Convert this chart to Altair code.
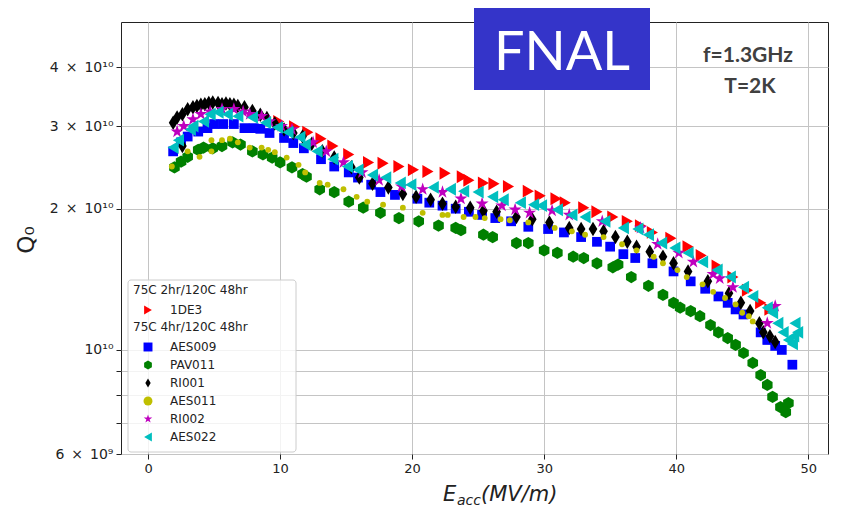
import altair as alt
import pandas as pd

# ---------------- data (Q in units of 1e10) ----------------
E_1DE3 = [9.9, 11.1, 12.1, 13.1, 14.0, 15.2, 16.7, 17.8, 19.0, 20.1, 21.2, 22.5, 23.8, 24.3, 25.4,
          26.2, 27.3, 28.8, 29.7, 30.9, 31.6, 33.0, 34.0, 35.2, 36.3, 37.3, 38.2, 39.6, 40.9, 41.9,
          43.1, 44.3, 45.4, 46.4, 47.1]
Q_1DE3 = [3.07, 2.99, 2.91, 2.82, 2.72, 2.61, 2.51, 2.50, 2.46, 2.42, 2.40, 2.38, 2.34, 2.30, 2.27,
          2.26, 2.23, 2.18, 2.13, 2.10, 2.06, 2.01, 1.97, 1.92, 1.88, 1.84, 1.78, 1.73, 1.66, 1.59,
          1.51, 1.43, 1.34, 1.26, 1.22]

E_AES009 = [1.9, 2.5, 3.0, 3.8, 4.5, 5.0, 5.7, 6.5, 7.3, 8.0, 8.5, 9.2, 10.3, 11.0, 11.8, 13.1, 14.1,
            15.2, 15.9, 16.9, 17.6, 18.7, 20.4, 21.3, 22.3, 23.3, 24.3, 25.3, 26.3, 27.5, 28.8, 30.3,
            31.5, 32.8, 34.0, 35.0, 36.0, 36.9, 38.2, 39.8, 41.1, 42.2, 43.2, 43.9, 44.5, 45.1, 46.4,
            46.9, 47.5, 48.0, 48.8]
Q_AES009 = [2.65, 2.77, 2.85, 2.92, 2.97, 3.03, 3.03, 3.03, 2.97, 2.97, 2.96, 2.90, 2.83, 2.76, 2.69,
            2.55, 2.46, 2.39, 2.33, 2.25, 2.17, 2.14, 2.10, 2.06, 2.03, 2.00, 1.97, 1.94, 1.91, 1.88,
            1.83, 1.81, 1.78, 1.74, 1.70, 1.66, 1.60, 1.57, 1.53, 1.47, 1.40, 1.35, 1.30, 1.26, 1.22,
            1.19, 1.09, 1.05, 1.02, 1.00, 0.93]

E_PAV011 = [2.0, 2.5, 3.0, 3.8, 4.2, 4.9, 5.6, 6.4, 7.0, 7.9, 8.7, 9.4, 10.0, 10.9, 11.7, 12.0, 13.0,
            14.1, 15.2, 16.3, 17.6, 19.0, 20.5, 22.0, 23.3, 23.7, 25.4, 26.1, 27.9, 28.8, 30.0, 31.0,
            32.2, 33.0, 34.0, 35.2, 35.6, 36.6, 37.9, 39.0, 39.8, 40.3, 41.1, 41.8, 42.6, 43.2, 43.9,
            44.5, 45.1, 45.8, 46.4, 46.9, 47.3, 47.9, 48.3, 48.5]
Q_PAV011 = [2.45, 2.52, 2.58, 2.67, 2.70, 2.69, 2.72, 2.77, 2.74, 2.65, 2.61, 2.57, 2.51, 2.45, 2.37,
            2.34, 2.20, 2.17, 2.07, 2.01, 1.96, 1.91, 1.88, 1.84, 1.82, 1.80, 1.76, 1.74, 1.69, 1.69,
            1.63, 1.61, 1.58, 1.57, 1.53, 1.50, 1.52, 1.43, 1.37, 1.31, 1.26, 1.23, 1.21, 1.18, 1.13,
            1.09, 1.06, 1.025, 0.985, 0.938, 0.884, 0.842, 0.794, 0.755, 0.737, 0.77]

E_RI001 = [1.9, 2.2, 2.6, 2.6, 3.0, 3.4, 3.7, 4.0, 4.3, 4.6, 4.9, 5.3, 5.6, 5.9, 6.2, 6.5, 6.8, 7.3,
           7.9, 8.5, 9.0, 9.6, 10.3, 11.0, 11.7, 12.4, 13.2, 14.1, 15.4, 16.0, 17.0, 18.2, 19.3, 20.3,
           21.4, 22.3, 23.3, 24.4, 25.4, 26.4, 27.9, 29.1, 30.4, 31.9, 32.8, 33.7, 34.5, 35.4, 36.3,
           37.0, 38.0, 39.0, 39.8, 40.9, 42.4, 44.0, 44.9, 45.6, 46.3, 46.6, 47.1, 47.5]
Q_RI001 = [3.05, 3.13, 3.18, 2.72, 3.26, 3.29, 3.31, 3.33, 3.34, 3.36, 3.37, 3.36, 3.34, 3.35, 3.34,
           3.33, 3.31, 3.29, 3.23, 3.17, 3.12, 3.04, 2.95, 2.90, 2.85, 2.75, 2.65, 2.57, 2.45, 2.33,
           2.26, 2.22, 2.15, 2.12, 2.09, 2.05, 2.02, 2.01, 1.98, 1.97, 1.92, 1.90, 1.87, 1.82, 1.81,
           1.81, 1.79, 1.74, 1.70, 1.66, 1.62, 1.58, 1.53, 1.47, 1.40, 1.32, 1.26, 1.21, 1.14, 1.09,
           1.07, 1.04]

E_AES011 = [1.8, 3.0, 3.9, 4.8, 4.8, 5.6, 6.2, 6.8, 7.7, 8.6, 9.1, 9.6, 10.5, 11.4, 11.9, 13.0, 13.6,
            14.8, 15.8, 16.6, 17.8, 19.3, 20.8, 22.3, 22.7, 23.9, 24.8, 25.5, 26.7, 27.4, 28.8, 30.8,
            32.1, 33.1, 34.5, 35.9, 37.0, 38.3, 39.0, 40.1, 40.8, 42.0, 42.8, 43.7, 44.5, 45.0, 45.5,
            45.8]
Q_AES011 = [2.46, 2.65, 2.58, 2.80, 2.65, 2.80, 2.82, 2.77, 2.70, 2.70, 2.67, 2.64, 2.57, 2.48, 2.39,
            2.27, 2.25, 2.20, 2.12, 2.07, 2.04, 2.01, 1.96, 1.94, 1.94, 1.92, 1.92, 1.91, 1.90, 1.89,
            1.87, 1.82, 1.79, 1.76, 1.74, 1.68, 1.63, 1.58, 1.53, 1.48, 1.43, 1.38, 1.33, 1.29, 1.25,
            1.20, 1.18, 1.15]

E_RI002 = [2.2, 2.7, 3.4, 4.0, 4.7, 5.6, 6.5, 7.2, 7.7, 8.6, 9.2, 10.1, 10.9, 12.5, 13.5, 14.8, 16.2,
           17.5, 19.2, 20.8, 22.3, 23.7, 25.3, 26.8, 27.8, 28.9, 30.6, 31.9, 34.4, 37.3, 38.6, 40.2,
           41.3, 42.8, 43.3, 44.3, 46.9, 47.5]
Q_RI002 = [2.92, 3.00, 3.10, 3.18, 3.22, 3.26, 3.26, 3.22, 3.18, 3.15, 3.07, 3.00, 2.95, 2.77, 2.65,
           2.51, 2.39, 2.30, 2.23, 2.20, 2.17, 2.10, 2.05, 2.03, 1.99, 1.96, 1.98, 1.94, 1.88, 1.82,
           1.68, 1.61, 1.54, 1.45, 1.42, 1.36, 1.14, 1.24]

E_AES022 = [1.9, 2.3, 3.2, 3.4, 4.2, 4.7, 5.3, 6.0, 6.8, 7.9, 8.9, 9.8, 10.6, 11.5, 11.9, 12.8, 14.0,
            15.1, 15.9, 17.0, 18.0, 19.1, 19.9, 21.6, 22.9, 23.9, 25.0, 26.1, 26.9, 28.2, 29.2, 29.8,
            31.0, 32.1, 33.1, 34.6, 36.0, 37.1, 37.9, 38.9, 39.9, 40.9, 42.0, 43.1, 44.1, 45.1, 45.8,
            46.9, 47.3, 47.7, 48.1, 48.5, 48.8, 48.9, 49.2, 49.0]
Q_AES022 = [2.70, 2.80, 2.95, 3.00, 3.07, 3.18, 3.21, 3.18, 3.15, 3.13, 3.05, 2.98, 2.91, 2.84, 2.74,
            2.65, 2.55, 2.46, 2.42, 2.36, 2.33, 2.27, 2.25, 2.22, 2.20, 2.18, 2.17, 2.12, 2.09, 2.06,
            2.04, 2.03, 1.99, 1.94, 1.92, 1.88, 1.82, 1.81, 1.76, 1.69, 1.65, 1.61, 1.54, 1.48, 1.43,
            1.36, 1.30, 1.23, 1.20, 1.14, 1.09, 1.05, 1.03, 1.07, 1.09, 1.14]

GROUP1_TITLE = "75C 2hr/120C 48hr"
GROUP2_TITLE = "75C 4hr/120C 48hr"

X_TICKS = [0, 10, 20, 30, 40, 50]
Y_TICKS = [6e9, 7e9, 8e9, 9e9, 1e10, 2e10, 3e10, 4e10]

HEX = "M0,-1L0.866,-0.5L0.866,0.5L0,1L-0.866,0.5L-0.866,-0.5Z"
THIN_DIAMOND = "M0,-1L0.6,0L0,1L-0.6,0Z"
STAR = ("M0,-1L0.2245,-0.309L0.951,-0.309L0.3633,0.118L0.5878,0.809L0,0.382"
        "L-0.5878,0.809L-0.3633,0.118L-0.951,-0.309L-0.2245,-0.309Z")

series1 = ["1DE3"]
colors1 = ["#ff0000"]
shapes1 = ["triangle-right"]
sizes1 = [165]

series2 = ["AES009", "PAV011", "RI001", "AES011", "RI002", "AES022"]
colors2 = ["#0000ff", "#008000", "#000000", "#bfbf00", "#bf00bf", "#00bfbf"]
shapes2 = ["square", HEX, THIN_DIAMOND, "circle", STAR, "triangle-left"]
sizes2 = [95, 150, 210, 34, 190, 165]


def frame(name, E, Q, sz):
    return pd.DataFrame({"series": name, "E": E, "Q": [q * 1e10 for q in Q], "sz": sz})


df1 = frame("1DE3", E_1DE3, Q_1DE3, sizes1[0])
df2 = pd.concat([
    frame("AES009", E_AES009, Q_AES009, sizes2[0]),
    frame("PAV011", E_PAV011, Q_PAV011, sizes2[1]),
    frame("RI001", E_RI001, Q_RI001, sizes2[2]),
    frame("AES011", E_AES011, Q_AES011, sizes2[3]),
    frame("RI002", E_RI002, Q_RI002, sizes2[4]),
    frame("AES022", E_AES022, Q_AES022, sizes2[5]),
], ignore_index=True)

SP = "\u2002"
y_label_expr = (
    f"round(datum.value/1e9)==40 ? '4{SP}×{SP}10¹⁰' : "
    f"round(datum.value/1e9)==30 ? '3{SP}×{SP}10¹⁰' : "
    f"round(datum.value/1e9)==20 ? '2{SP}×{SP}10¹⁰' : "
    "round(datum.value/1e9)==10 ? '10¹⁰' : "
    f"round(datum.value/1e9)==6 ? '6{SP}×{SP}10⁹' : ''"
)

x_enc = alt.X("E:Q", scale=alt.Scale(domain=[-2.05, 51.5], nice=False, zero=False),
              axis=alt.Axis(values=X_TICKS, title=None, grid=True, tickSize=5,
                            labelPadding=3, format="d", labelFontSize=13))
y_enc = alt.Y("Q:Q", scale=alt.Scale(type="log", domain=[6e9, 5e10], nice=False),
              axis=alt.Axis(values=Y_TICKS, title=None, grid=True, tickSize=5,
                            labelPadding=3, labelExpr=y_label_expr, labelOverlap=False,
                            labelFontSize=14))

LEG = dict(orient="none", legendX=12, titleFontSize=12, titleFontWeight="normal",
           titleColor="#222", titleFont="DejaVu Sans", labelFont="DejaVu Sans",
           labelFontSize=12, labelColor="#222", symbolSize=80, symbolStrokeWidth=0,
           rowPadding=6, titlePadding=7, symbolOffset=9, labelOffset=16, padding=0,
           titleLimit=300, labelLimit=200)


def points(df, names, cols, shps, title, ly):
    leg = alt.Legend(title=title, legendY=ly, **LEG)
    return alt.Chart(df).mark_point(filled=True, opacity=1, strokeWidth=0).encode(
        x=x_enc, y=y_enc,
        color=alt.Color("series:N", scale=alt.Scale(domain=names, range=cols), legend=leg),
        shape=alt.Shape("series:N", scale=alt.Scale(domain=names, range=shps), legend=leg),
        size=alt.Size("sz:Q", scale=None, legend=None),
    )


layer1 = points(df1, series1, colors1, shapes1, GROUP1_TITLE, 263)
layer2 = points(df2, series2, colors2, shapes2, GROUP2_TITLE, 300)

one = alt.Chart(pd.DataFrame({"k": [0]}))

legend_box = one.mark_rect(fill="white", fillOpacity=0.8, stroke="#cccccc", strokeWidth=1,
                           cornerRadius=3).encode(
    x=alt.value(7), x2=alt.value(175), y=alt.value(258), y2=alt.value(430))

fnal_box = one.mark_rect(fill="#3434c9").encode(
    x=alt.value(353), x2=alt.value(529), y=alt.value(-14), y2=alt.value(68))
fnal_text = one.mark_text(text="FNAL", font="Lato", fontSize=54, color="white",
                          align="center", baseline="alphabetic").encode(
    x=alt.value(441), y=alt.value(48))
freq_text = one.mark_text(text="f=1.3GHz", font="Lato", fontSize=21, fontWeight="bold",
                          color="#404040", align="center", baseline="alphabetic").encode(
    x=alt.value(627), y=alt.value(40))
temp_text = one.mark_text(text="T=2K", font="Lato", fontSize=21, fontWeight="bold",
                          color="#404040", align="center", baseline="alphabetic").encode(
    x=alt.value(629), y=alt.value(71))

ytitle = one.mark_text(text="Q₀", font="DejaVu Sans", fontSize=23, color="#222",
                       angle=270, align="center", baseline="middle").encode(
    x=alt.value(-94), y=alt.value(218))
xt_E = one.mark_text(text="E", font="DejaVu Sans", fontStyle="italic", fontSize=21,
                     color="#222", align="left", baseline="alphabetic").encode(
    x=alt.value(322), y=alt.value(479))
xt_acc = one.mark_text(text="acc", font="DejaVu Sans", fontStyle="italic", fontSize=14,
                       color="#222", align="left", baseline="alphabetic").encode(
    x=alt.value(336), y=alt.value(483))
xt_rest = one.mark_text(text="(MV/m)", font="DejaVu Sans", fontStyle="italic", fontSize=21,
                        color="#222", align="left", baseline="alphabetic").encode(
    x=alt.value(360), y=alt.value(479))

chart = alt.layer(
    layer1, layer2, legend_box, fnal_box, fnal_text, freq_text, temp_text,
    ytitle, xt_E, xt_acc, xt_rest,
).resolve_scale(
    color="independent", shape="independent"
).properties(
    width=707, height=432,
    autosize=alt.AutoSizeParams(type="none"),
    padding={"left": 113, "top": 14, "right": 8, "bottom": 56},
    background="white",
).configure_view(
    stroke="#222", strokeWidth=1
).configure_axis(
    domain=False, gridColor="#c4c4c4", gridWidth=1, tickColor="#222", tickWidth=1,
    labelFont="DejaVu Sans", labelColor="#222",
)

chart.save("out.html", embed_options={"renderer": "svg", "actions": False})
